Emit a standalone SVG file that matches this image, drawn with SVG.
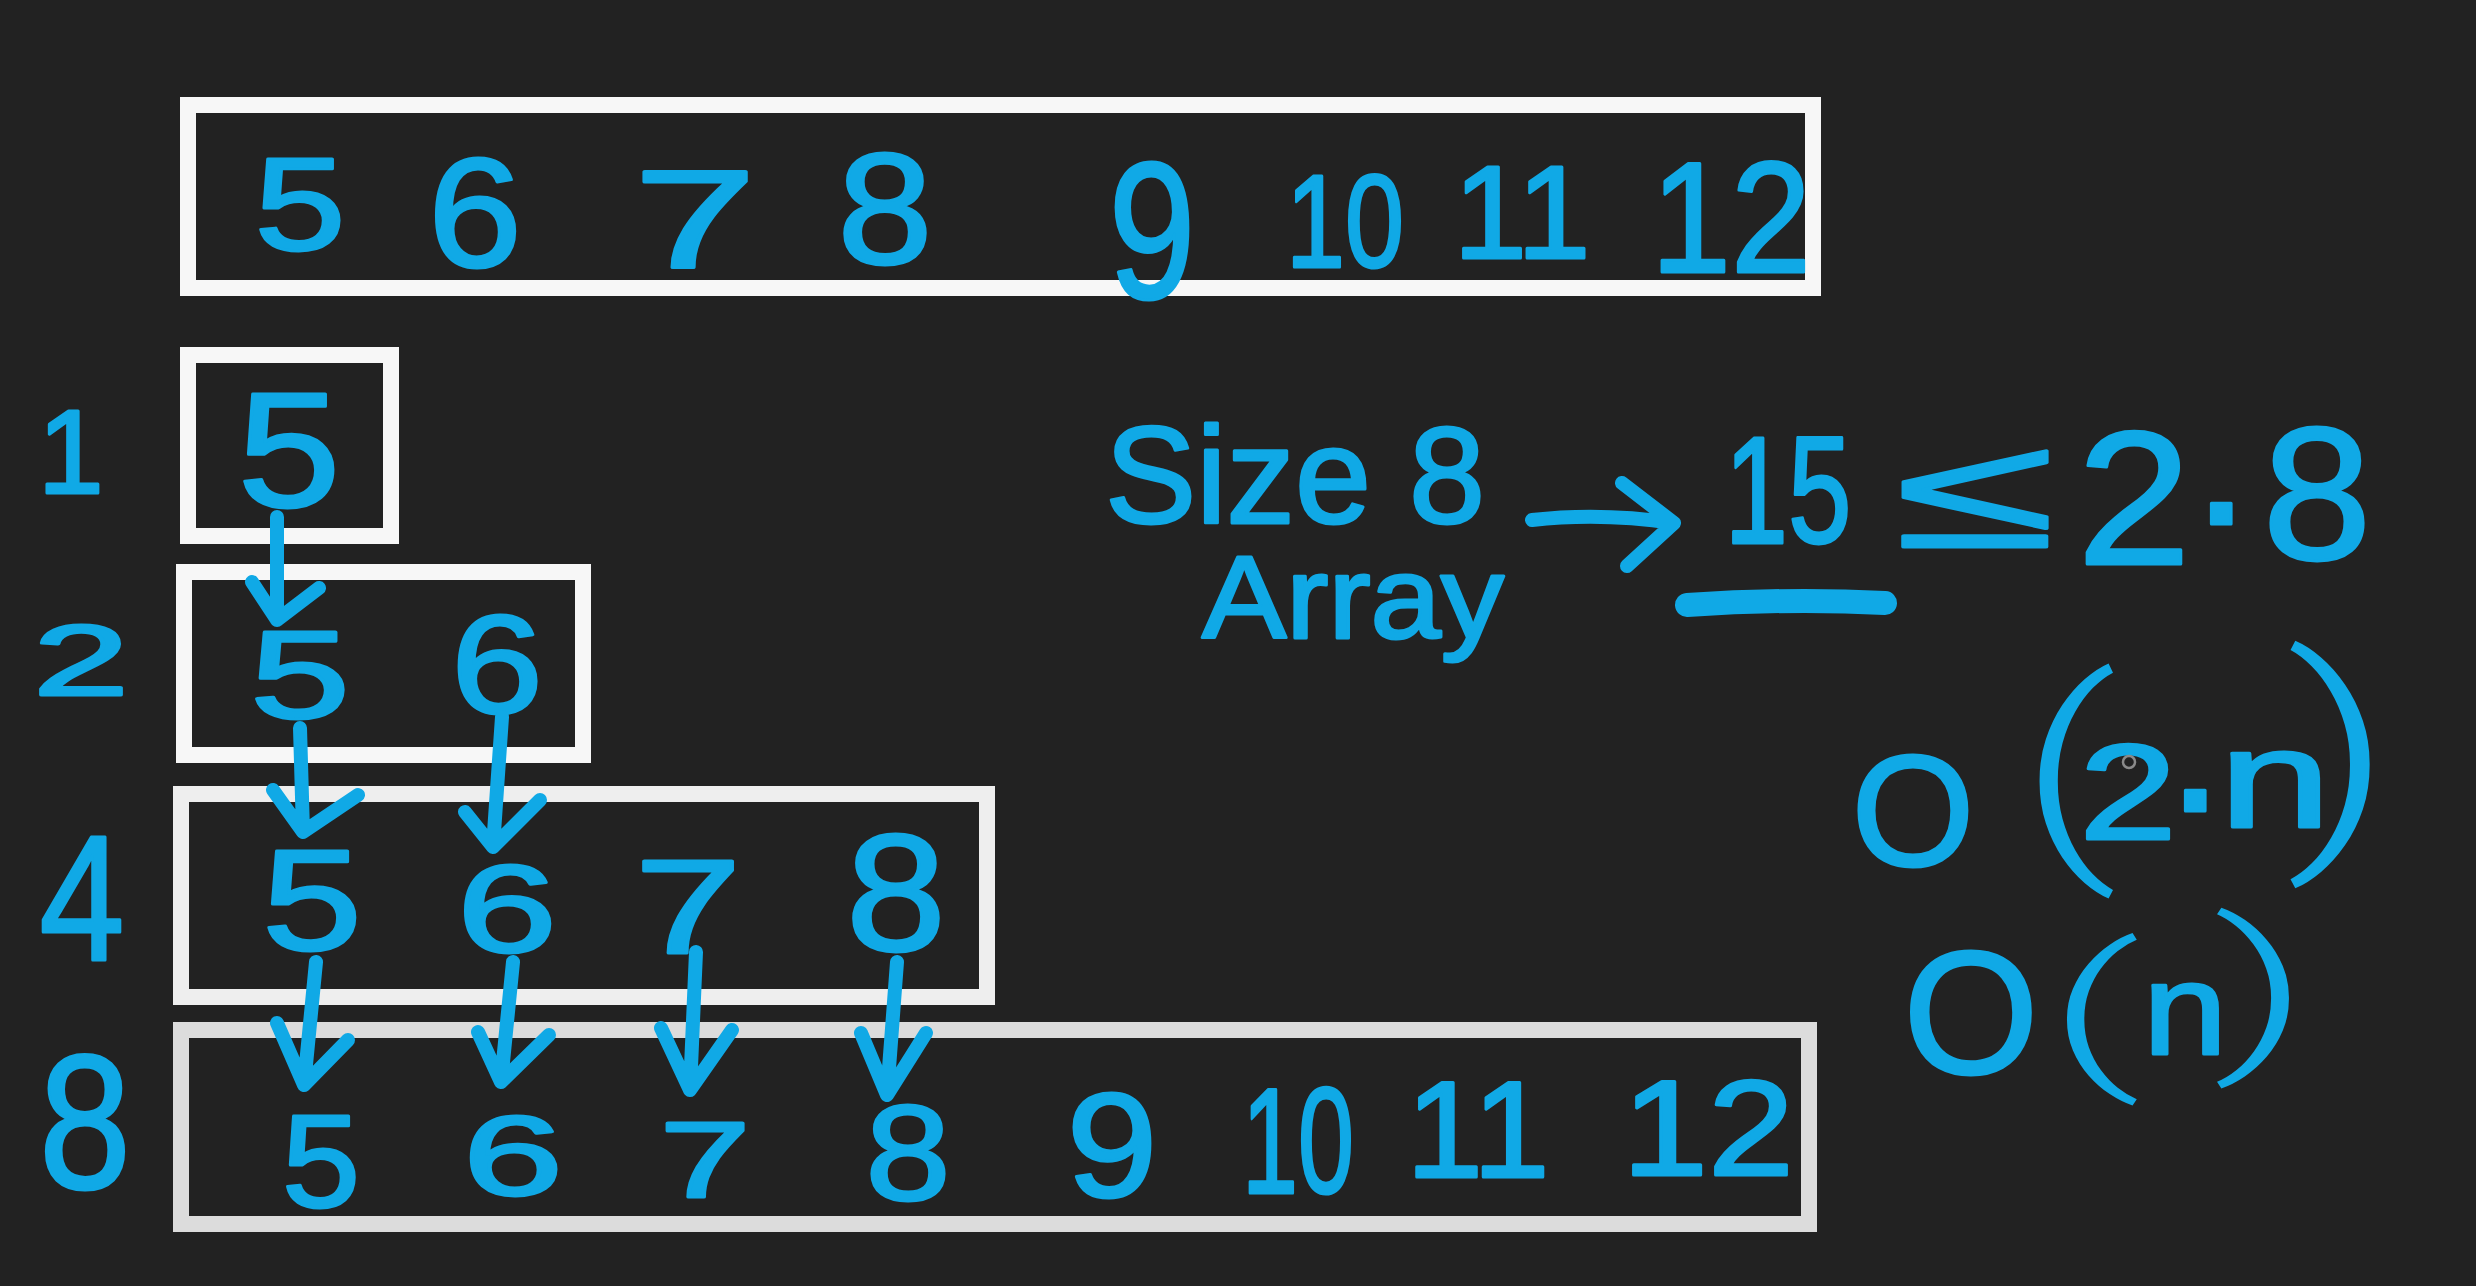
<svg xmlns="http://www.w3.org/2000/svg" width="2476" height="1286" viewBox="0 0 2476 1286">
<style>
.bg{fill:#222222}
.box{fill:none;stroke-width:16}
.w{stroke:#f7f7f7}
.g1{stroke:#eeeeee}
.g2{stroke:#dcdcdc}
.h{font-family:"Liberation Sans",Arial,sans-serif;fill:#10a9e6;stroke:#10a9e6;stroke-width:3;stroke-linejoin:round;text-anchor:middle}
.s{text-anchor:start}
.p{font-family:Roboto,"Liberation Sans",sans-serif;font-weight:300;fill:#10a9e6;text-anchor:middle}
.c path{fill:none;stroke:#10a9e6;stroke-width:14;stroke-linecap:round;stroke-linejoin:round}
</style>
<rect class="bg" x="0" y="0" width="2476" height="1286"/>

<g id="top-array">
<rect class="box w" x="188" y="105" width="1625" height="183"/>
<text class="h" x="300" y="250" font-size="131" textLength="91" lengthAdjust="spacingAndGlyphs">5</text>
<text class="h" x="475" y="266" font-size="156" textLength="94" lengthAdjust="spacingAndGlyphs">6</text>
<text class="h" x="695" y="267" font-size="139" textLength="123" lengthAdjust="spacingAndGlyphs">7</text>
<text class="h" x="885" y="263" font-size="158" textLength="95" lengthAdjust="spacingAndGlyphs">8</text>
<text class="h" x="1152" y="298" font-size="194" textLength="87" lengthAdjust="spacingAndGlyphs">9</text>
<text class="h" x="1345" y="267" font-size="132" textLength="118" lengthAdjust="spacingAndGlyphs">10</text>
<text class="h" x="1522" y="258" font-size="132">11</text>
<text class="h" x="1731" y="272" font-size="158" textLength="160" lengthAdjust="spacingAndGlyphs">12</text>
</g>

<g id="size-labels">
<text class="h s" x="38" y="493" font-size="118">1</text>
<text class="h" x="81" y="695" font-size="101" textLength="96" lengthAdjust="spacingAndGlyphs">2</text>
<text class="h" x="82" y="960" font-size="178" textLength="85" lengthAdjust="spacingAndGlyphs">4</text>
<text class="h" x="85" y="1188" font-size="192" textLength="92" lengthAdjust="spacingAndGlyphs">8</text>
</g>

<g id="array-1">
<rect class="box w" x="188" y="355" width="203" height="181"/>
<text class="h" x="289" y="506" font-size="164" textLength="103" lengthAdjust="spacingAndGlyphs">5</text>
</g>

<g id="array-2">
<rect class="box w" x="184" y="572" width="399" height="183"/>
<text class="h" x="300" y="718" font-size="124" textLength="100" lengthAdjust="spacingAndGlyphs">5</text>
<text class="h" x="497" y="713" font-size="139" textLength="92" lengthAdjust="spacingAndGlyphs">6</text>
</g>

<g id="array-4">
<rect class="box g1" x="181" y="794" width="806" height="203"/>
<text class="h" x="312" y="950" font-size="142" textLength="100" lengthAdjust="spacingAndGlyphs">5</text>
<text class="h" x="507" y="952" font-size="125" textLength="100" lengthAdjust="spacingAndGlyphs">6</text>
<text class="h" x="688" y="953" font-size="133" textLength="107" lengthAdjust="spacingAndGlyphs">7</text>
<text class="h" x="896" y="950" font-size="167" textLength="100" lengthAdjust="spacingAndGlyphs">8</text>
</g>

<g id="array-8">
<rect class="box g2" x="181" y="1030" width="1628" height="194"/>
<text class="h" x="321" y="1207" font-size="132" textLength="78" lengthAdjust="spacingAndGlyphs">5</text>
<text class="h" x="513" y="1195" font-size="114" textLength="100" lengthAdjust="spacingAndGlyphs">6</text>
<text class="h" x="705" y="1197" font-size="107" textLength="91" lengthAdjust="spacingAndGlyphs">7</text>
<text class="h" x="908" y="1200" font-size="135" textLength="85" lengthAdjust="spacingAndGlyphs">8</text>
<text class="h" x="1112" y="1197" font-size="149" textLength="91" lengthAdjust="spacingAndGlyphs">9</text>
<text class="h" x="1298" y="1193" font-size="150" textLength="112" lengthAdjust="spacingAndGlyphs">10</text>
<text class="h" x="1478" y="1177" font-size="138">11</text>
<text class="h" x="1708" y="1175" font-size="136" textLength="172" lengthAdjust="spacingAndGlyphs">12</text>
</g>

<g id="size-note">
<text class="h" x="1295" y="523" font-size="138" textLength="380" lengthAdjust="spacingAndGlyphs">Size 8</text>
<text class="h" x="1353" y="638" font-size="116" textLength="302" lengthAdjust="spacingAndGlyphs">Array</text>
</g>

<g id="inequality">
<text class="h" x="1788" y="543" font-size="153" textLength="127" lengthAdjust="spacingAndGlyphs">15</text>
<path d="M1687,605 Q1790,598 1885,603" fill="none" stroke="#10a9e6" stroke-width="24" stroke-linecap="round"/>
<text class="h" x="1975" y="547" font-size="160" textLength="160" lengthAdjust="spacingAndGlyphs">≤</text>
<text class="h" x="2134" y="564" font-size="189" textLength="114" lengthAdjust="spacingAndGlyphs">2</text>
<text class="h" x="2225" y="560" font-size="140" font-weight="bold">·</text>
<text class="h" x="2317" y="559" font-size="189" textLength="109" lengthAdjust="spacingAndGlyphs">8</text>
</g>

<g id="big-o-2n">
<text class="h" x="1913" y="865" font-size="158">O</text>
<text class="p" x="2068" y="846" font-size="229" textLength="100" lengthAdjust="spacingAndGlyphs">(</text>
<text class="h" x="2128" y="839" font-size="136" textLength="98" lengthAdjust="spacingAndGlyphs">2</text>
<text class="h" x="2199" y="847" font-size="140" font-weight="bold">·</text>
<text class="h" x="2275" y="827" font-size="140" textLength="112" lengthAdjust="spacingAndGlyphs">n</text>
<text class="p" x="2340" y="833" font-size="241" textLength="110" lengthAdjust="spacingAndGlyphs">)</text>
<circle cx="2129" cy="762" r="6" fill="none" stroke="#8a8a8a" stroke-width="2.5"/>
</g>

<g id="big-o-n">
<text class="h" x="1971" y="1073" font-size="174">O</text>
<text class="p" x="2094" y="1067" font-size="168" textLength="95" lengthAdjust="spacingAndGlyphs">(</text>
<text class="h" x="2185" y="1054" font-size="130" textLength="84" lengthAdjust="spacingAndGlyphs">n</text>
<text class="p" x="2262" y="1048" font-size="176" textLength="100" lengthAdjust="spacingAndGlyphs">)</text>
</g>

<g id="connectors" class="c">
<path d="M277,517 L277,620 M252,582 L277,620 L319,588"/>
<path d="M300,728 L303,832 M273,790 L303,832 L358,795"/>
<path d="M502,717 L493,847 M465,812 L493,847 L540,800"/>
<path d="M316,962 L304,1085 M277,1023 L304,1085 L348,1040"/>
<path d="M513,962 L501,1082 M478,1032 L501,1082 L549,1035"/>
<path d="M696,952 L690,1090 M661,1028 L690,1090 L732,1030"/>
<path d="M897,962 L887,1095 M861,1033 L887,1095 L926,1033"/>
<path d="M1532,520 Q1600,512 1674,523 M1622,483 L1674,523 L1627,566"/>
</g>
</svg>
